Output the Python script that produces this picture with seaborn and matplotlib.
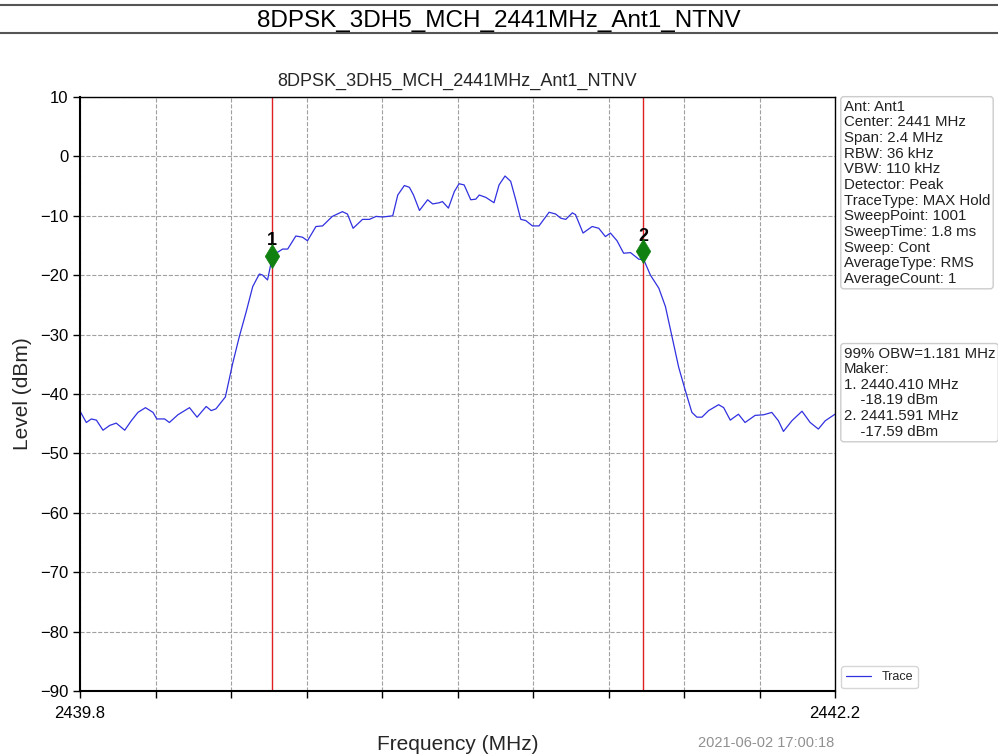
import numpy as np
import pandas as pd
import matplotlib
matplotlib.use("Agg")
import matplotlib.pyplot as plt
import seaborn as sns
from matplotlib.lines import Line2D

sns.set_theme(style="ticks")
plt.rcParams['font.family'] = ['Liberation Sans', 'DejaVu Sans']

title = "8DPSK_3DH5_MCH_2441MHz_Ant1_NTNV"

freq_mhz = [2439.799, 2439.82, 2439.836, 2439.852, 2439.873, 2439.894, 2439.915, 2439.942,
            2439.963, 2439.984, 2440.008, 2440.032, 2440.044, 2440.069, 2440.084, 2440.111,
            2440.148, 2440.172, 2440.201, 2440.217, 2440.232, 2440.262, 2440.285, 2440.306,
            2440.328, 2440.349, 2440.37, 2440.38, 2440.396, 2440.407, 2440.423, 2440.444,
            2440.46, 2440.486, 2440.507, 2440.523, 2440.55, 2440.571, 2440.602, 2440.634,
            2440.65, 2440.668, 2440.698, 2440.72, 2440.741, 2440.762, 2440.794, 2440.81,
            2440.831, 2440.847, 2440.86, 2440.879, 2440.905, 2440.921, 2440.942, 2440.952,
            2440.971, 2440.99, 2441.005, 2441.021, 2441.042, 2441.058, 2441.069, 2441.09,
            2441.116, 2441.132, 2441.151, 2441.169, 2441.185, 2441.201, 2441.217, 2441.238,
            2441.259, 2441.291, 2441.312, 2441.328, 2441.344, 2441.365, 2441.375, 2441.399,
            2441.428, 2441.449, 2441.47, 2441.486, 2441.507, 2441.528, 2441.55, 2441.576,
            2441.592, 2441.613, 2441.64, 2441.661, 2441.682, 2441.703, 2441.724, 2441.745,
            2441.761, 2441.777, 2441.798, 2441.83, 2441.846, 2441.867, 2441.893, 2441.914,
            2441.946, 2441.973, 2441.999, 2442.02, 2442.036, 2442.063, 2442.095, 2442.121,
            2442.147, 2442.169, 2442.2]
level_dbm = [-42.8, -44.8, -44.2, -44.4, -46.1, -45.3, -44.9, -46.1,
             -44.5, -43.1, -42.3, -43.1, -44.2, -44.2, -44.8, -43.5,
             -42.3, -43.9, -42.1, -42.8, -42.5, -40.5, -34.9, -30.4,
             -26.2, -21.9, -19.8, -19.97, -20.8, -18.0, -16.3, -15.6,
             -15.6, -13.4, -13.6, -14.2, -11.8, -11.7, -10.1, -9.3,
             -9.7, -12.1, -10.6, -10.6, -10.1, -10.2, -10.0, -6.5,
             -4.9, -5.2, -6.5, -9.1, -7.3, -8.0, -7.8, -7.6,
             -8.7, -5.9, -4.6, -4.8, -7.3, -7.2, -6.5, -6.9,
             -7.8, -4.8, -3.3, -4.2, -7.3, -10.6, -10.8, -11.7,
             -11.7, -9.4, -9.7, -10.4, -10.6, -9.5, -9.8, -12.9,
             -11.8, -12.1, -13.5, -12.9, -14.2, -16.3, -16.2, -17.3,
             -17.4, -19.97, -22.2, -25.3, -30.4, -35.5, -39.4, -43.1,
             -43.9, -43.9, -42.8, -41.8, -42.3, -44.4, -43.4, -44.8,
             -43.6, -43.5, -43.1, -44.5, -46.3, -44.5, -42.9, -44.8,
             -45.9, -44.5, -43.4]

marker_labels = ["1", "2"]
marker_freq = [2440.410, 2441.591]
marker_level = [-16.7, -16.0]

info_lines = ["Ant: Ant1", "Center: 2441 MHz", "Span: 2.4 MHz", "RBW: 36 kHz", "VBW: 110 kHz",
              "Detector: Peak", "TraceType: MAX Hold", "SweepPoint: 1001", "SweepTime: 1.8 ms",
              "Sweep: Cont", "AverageType: RMS", "AverageCount: 1"]
obw_lines = ["99% OBW=1.181 MHz", "Maker:", "1. 2440.410 MHz", "    -18.19 dBm",
             "2. 2441.591 MHz", "    -17.59 dBm"]
timestamp = "2021-06-02 17:00:18"

x_min, x_max = 2439.8, 2442.2
y_ticks = list(range(-90, 11, 10))

fig = plt.figure(figsize=(9.98, 7.55), dpi=100)
fig.patch.set_facecolor("white")

# top title with rules
fig.text(0.5, 0.972, title, ha="center", va="center", fontsize=17.5, color="black")
fig.add_artist(Line2D([0, 1], [0.994, 0.994], color="#555555", lw=1.5))
fig.add_artist(Line2D([0, 1], [0.956, 0.956], color="#555555", lw=1.5))

ax = fig.add_axes([0.0802, 0.0848, 0.7565, 0.7867])
df = pd.DataFrame({"f": freq_mhz, "lvl": level_dbm})
sns.lineplot(data=df, x="f", y="lvl", ax=ax, color="#3030e0", lw=0.9, label="Trace")

for f in marker_freq:
    ax.axvline(f, color="#e02020", lw=1.0)
mdf = pd.DataFrame({"f": marker_freq, "lvl": marker_level})
sns.scatterplot(data=mdf, x="f", y="lvl", ax=ax, marker="d", s=150, color="#108010",
                edgecolor="#108010", linewidth=0.5, zorder=5, legend=False)
for lab, f, l in zip(marker_labels, marker_freq, marker_level):
    ax.text(f, l + 1.8, lab, ha="center", va="baseline", fontsize=13, color="black",
            fontweight="semibold")

ax.set_xlim(x_min, x_max)
ax.set_ylim(-90, 10)
ax.set_yticks(y_ticks)
xt = np.linspace(x_min, x_max, 11)
ax.set_xticks(xt)
ax.set_xticklabels([f"{x_min:.1f}"] + [""] * 9 + [f"{x_max:.1f}"])
ax.grid(True, color="#a0a0a0", ls="--", lw=0.8)
ax.tick_params(axis="both", direction="out", length=5, width=1, labelsize=12, colors="black")
ax.tick_params(axis="x", pad=6)
for s in ax.spines.values():
    s.set_color("black")
    s.set_linewidth(1.0)
ax.spines["left"].set_linewidth(1.5)
ax.spines["bottom"].set_linewidth(1.5)
ax.set_title(title, fontsize=13, pad=8)
ax.set_xlabel("Frequency (MHz)", fontsize=15, labelpad=10)
ax.set_ylabel("Level (dBm)", fontsize=15, labelpad=6)

leg = ax.legend(loc="lower left", bbox_to_anchor=(1.005, 0.0), fontsize=9, frameon=True,
                handlelength=2.0, borderaxespad=0.2)
leg.get_frame().set_edgecolor("#cccccc")

box = dict(boxstyle="round,pad=0.2", fc="white", ec="#cccccc", lw=1)
fig.text(0.8455, 0.868, "\n".join(info_lines), ha="left", va="top", fontsize=10.8,
         linespacing=1.15, color="#222222", bbox=box)
fig.text(0.8455, 0.541, "\n".join(obw_lines), ha="left", va="top", fontsize=10.8,
         linespacing=1.15, color="#222222", bbox=box)
fig.text(0.836, 0.006, timestamp, ha="right", va="bottom", fontsize=10.5, color="#909090")

fig.savefig("out.png", dpi=100, facecolor="white")
